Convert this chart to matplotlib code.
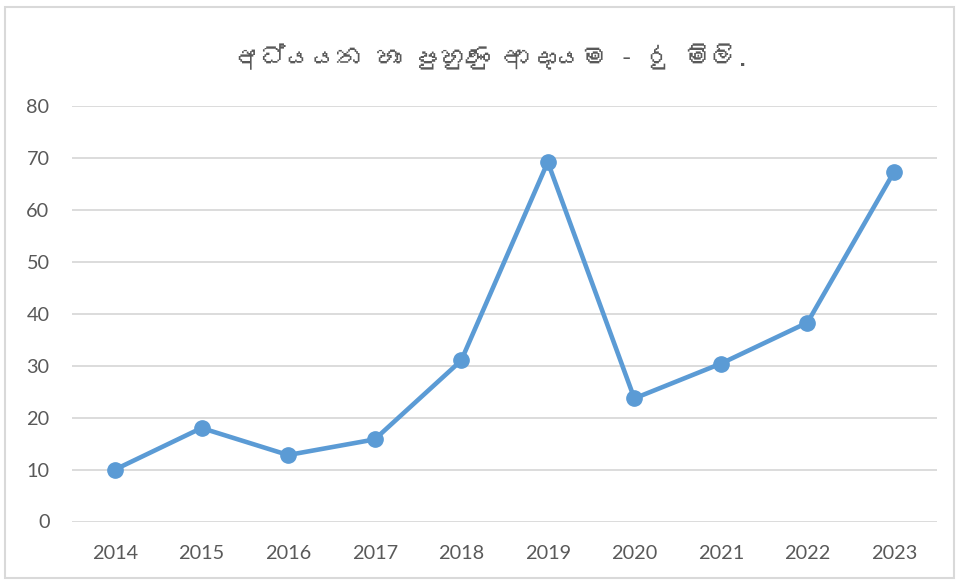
import matplotlib
matplotlib.use("Agg")
import matplotlib.pyplot as plt
from matplotlib import font_manager, ft2font
from matplotlib.patches import Rectangle

# Data (Rs. millions)
years = ["2014", "2015", "2016", "2017", "2018", "2019", "2020", "2021", "2022", "2023"]
income = [10.0, 18.0, 12.8, 15.8, 31.0, 69.2, 23.7, 30.4, 38.3, 67.3]
y_ticks = [0, 10, 20, 30, 40, 50, 60, 70, 80]
# no zero-width joiner: matplotlib can't shape it and draws a box instead
title = "අධ්යයන හා පුහුණු ආදායම - රු මිලි."

line_color = "#5B9BD5"
text_color = "#595959"
grid_color = "#D9D9D9"

# look for any installed font that has Sinhala glyphs
sinhala_family = None
for fe in font_manager.fontManager.ttflist:
    try:
        if 0x0D85 in ft2font.FT2Font(fe.fname).get_charmap():
            sinhala_family = fe.name
            break
    except Exception:
        pass
title_family = [sinhala_family, "DejaVu Sans"] if sinhala_family else ["DejaVu Sans"]

plt.rcParams["font.family"] = ["Lato", "DejaVu Sans"]

fig = plt.figure(figsize=(9.56, 5.80), dpi=100)
ax = fig.add_axes([71.7 / 956, 58.5 / 580, (937.3 - 71.7) / 956, (474 - 58.5) / 580])

x = list(range(len(years)))
ax.plot(x, income, color=line_color, linewidth=3.3, marker="o", markersize=11,
        solid_capstyle="round", zorder=3)

ax.set_xlim(-0.5, len(years) - 0.5)
ax.set_ylim(0, 80)
ax.set_yticks(y_ticks)
ax.set_xticks(x)
ax.set_xticklabels(years)
ax.grid(axis="y", color=grid_color, linewidth=1.3)
ax.set_axisbelow(True)
for s in ax.spines.values():
    s.set_visible(False)
ax.tick_params(length=0, colors=text_color, labelsize=14.3)
ax.tick_params(axis="y", pad=16)
ax.tick_params(axis="x", pad=17)

fig.text(492 / 956, 1 - 57 / 580, title, ha="center", va="center",
         fontsize=18.5, color=text_color, family=title_family)

# light chart border
fig.patches.append(Rectangle((5 / 956, 2 / 580), 949 / 956, 571 / 580,
                             transform=fig.transFigure, fill=False,
                             edgecolor=grid_color, linewidth=1.5))

fig.savefig("out.png", dpi=100)
